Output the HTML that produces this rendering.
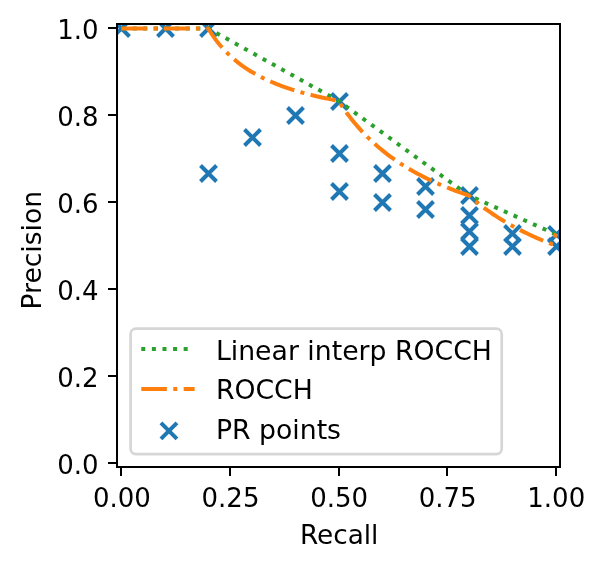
<!DOCTYPE html>
<html lang="en"><head><meta charset="utf-8"><title>PR curve</title>
<style>html,body{margin:0;padding:0;background:#fff}svg{display:block}text{font-family:"DejaVu Sans","Liberation Sans",sans-serif;font-size:26.70px;fill:#000}.t{font-size:26px}.xl{font-size:26.3px}.yl{font-size:26.6px}</style></head><body>
<svg width="604" height="568" viewBox="0 0 604 568">
<rect width="604" height="568" fill="#fff"/>
<clipPath id="ax"><rect x="117.00" y="24.00" width="443.00" height="443.00"/></clipPath>
<g clip-path="url(#ax)">
<path d="M113.50 20.50L129.50 36.50M113.50 36.50L129.50 20.50M157.50 20.50L173.50 36.50M157.50 36.50L173.50 20.50M200.50 20.50L216.50 36.50M200.50 36.50L216.50 20.50M200.50 165.50L216.50 181.50M200.50 181.50L216.50 165.50M244.50 129.50L260.50 145.50M244.50 145.50L260.50 129.50M287.50 107.50L303.50 123.50M287.50 123.50L303.50 107.50M331.50 93.50L347.50 109.50M331.50 109.50L347.50 93.50M331.50 145.50L347.50 161.50M331.50 161.50L347.50 145.50M331.50 183.50L347.50 199.50M331.50 199.50L347.50 183.50M374.50 165.50L390.50 181.50M374.50 181.50L390.50 165.50M374.50 194.50L390.50 210.50M374.50 210.50L390.50 194.50M417.50 178.50L433.50 194.50M417.50 194.50L433.50 178.50M417.50 201.50L433.50 217.50M417.50 217.50L433.50 201.50M461.50 187.50L477.50 203.50M461.50 203.50L477.50 187.50M461.50 207.50L477.50 223.50M461.50 223.50L477.50 207.50M461.50 223.50L477.50 239.50M461.50 239.50L477.50 223.50M461.50 238.50L477.50 254.50M461.50 254.50L477.50 238.50M504.50 225.50L520.50 241.50M504.50 241.50L520.50 225.50M504.50 238.50L520.50 254.50M504.50 254.50L520.50 238.50M548.50 226.50L564.50 242.50M548.50 242.50L564.50 226.50M548.50 238.50L564.50 254.50M548.50 254.50L564.50 238.50" stroke="#1f77b4" stroke-width="4.00" fill="none"/>
<path d="M121.34 28.44 L208.21 28.44 L338.50 100.83 L468.79 195.49 L555.66 234.17" stroke="#2ca02c" stroke-width="4.00" fill="none" stroke-linejoin="round" stroke-dasharray="4.00 6.60" stroke-dashoffset="-0.8"/>
<path d="M121.34 28.44 L122.82 28.44 L124.29 28.44 L125.76 28.44 L127.23 28.44 L128.70 28.44 L130.18 28.44 L131.65 28.44 L133.12 28.44 L134.59 28.44 L136.07 28.44 L137.54 28.44 L139.01 28.44 L140.48 28.44 L141.95 28.44 L143.43 28.44 L144.90 28.44 L146.37 28.44 L147.84 28.44 L149.32 28.44 L150.79 28.44 L152.26 28.44 L153.73 28.44 L155.20 28.44 L156.68 28.44 L158.15 28.44 L159.62 28.44 L161.09 28.44 L162.57 28.44 L164.04 28.44 L165.51 28.44 L166.98 28.44 L168.46 28.44 L169.93 28.44 L171.40 28.44 L172.87 28.44 L174.34 28.44 L175.82 28.44 L177.29 28.44 L178.76 28.44 L180.23 28.44 L181.71 28.44 L183.18 28.44 L184.65 28.44 L186.12 28.44 L187.59 28.44 L189.07 28.44 L190.54 28.44 L192.01 28.44 L193.48 28.44 L194.96 28.44 L196.43 28.44 L197.90 28.44 L199.37 28.44 L200.84 28.44 L202.32 28.44 L203.79 28.44 L205.26 28.44 L206.73 28.44 L208.21 28.44 L208.21 28.44 L210.41 32.00 L212.62 35.34 L214.83 38.47 L217.04 41.41 L219.25 44.18 L221.46 46.79 L223.66 49.27 L225.87 51.61 L228.08 53.83 L230.29 55.93 L232.50 57.93 L234.71 59.84 L236.91 61.66 L239.12 63.39 L241.33 65.04 L243.54 66.62 L245.75 68.14 L247.96 69.59 L250.17 70.98 L252.37 72.31 L254.58 73.59 L256.79 74.83 L259.00 76.01 L261.21 77.15 L263.42 78.25 L265.62 79.31 L267.83 80.33 L270.04 81.32 L272.25 82.27 L274.46 83.19 L276.67 84.08 L278.87 84.94 L281.08 85.77 L283.29 86.58 L285.50 87.36 L287.71 88.12 L289.92 88.86 L292.12 89.57 L294.33 90.26 L296.54 90.93 L298.75 91.59 L300.96 92.22 L303.17 92.84 L305.37 93.44 L307.58 94.03 L309.79 94.60 L312.00 95.15 L314.21 95.69 L316.42 96.22 L318.62 96.73 L320.83 97.23 L323.04 97.72 L325.25 98.20 L327.46 98.66 L329.67 99.12 L331.87 99.56 L334.08 99.99 L336.29 100.42 L338.50 100.83 L338.50 100.83 L340.71 104.24 L342.92 107.52 L345.13 110.67 L347.33 113.71 L349.54 116.65 L351.75 119.47 L353.96 122.20 L356.17 124.84 L358.38 127.39 L360.58 129.85 L362.79 132.24 L365.00 134.54 L367.21 136.78 L369.42 138.94 L371.63 141.04 L373.83 143.08 L376.04 145.06 L378.25 146.97 L380.46 148.84 L382.67 150.65 L384.88 152.41 L387.08 154.12 L389.29 155.79 L391.50 157.41 L393.71 158.98 L395.92 160.52 L398.13 162.02 L400.33 163.48 L402.54 164.90 L404.75 166.28 L406.96 167.64 L409.17 168.96 L411.38 170.24 L413.58 171.50 L415.79 172.73 L418.00 173.93 L420.21 175.10 L422.42 176.25 L424.63 177.37 L426.83 178.47 L429.04 179.54 L431.25 180.59 L433.46 181.61 L435.67 182.62 L437.88 183.60 L440.09 184.56 L442.29 185.51 L444.50 186.43 L446.71 187.34 L448.92 188.23 L451.13 189.10 L453.34 189.95 L455.54 190.79 L457.75 191.61 L459.96 192.41 L462.17 193.20 L464.38 193.98 L466.59 194.74 L468.79 195.49 L468.79 195.49 L470.27 196.78 L471.74 198.05 L473.21 199.30 L474.68 200.53 L476.16 201.74 L477.63 202.92 L479.10 204.08 L480.57 205.23 L482.04 206.35 L483.52 207.46 L484.99 208.55 L486.46 209.62 L487.93 210.67 L489.41 211.71 L490.88 212.73 L492.35 213.73 L493.82 214.72 L495.29 215.69 L496.77 216.65 L498.24 217.59 L499.71 218.51 L501.18 219.43 L502.66 220.33 L504.13 221.21 L505.60 222.09 L507.07 222.95 L508.54 223.79 L510.02 224.63 L511.49 225.45 L512.96 226.26 L514.43 227.06 L515.91 227.85 L517.38 228.63 L518.85 229.39 L520.32 230.15 L521.80 230.90 L523.27 231.63 L524.74 232.36 L526.21 233.07 L527.68 233.78 L529.16 234.47 L530.63 235.16 L532.10 235.84 L533.57 236.51 L535.05 237.17 L536.52 237.82 L537.99 238.47 L539.46 239.10 L540.93 239.73 L542.41 240.35 L543.88 240.96 L545.35 241.57 L546.82 242.17 L548.30 242.76 L549.77 243.34 L551.24 243.91 L552.71 244.48 L554.18 245.04 L555.66 245.60" stroke="#ff7f0e" stroke-width="4.00" fill="none" stroke-linejoin="round" stroke-dasharray="25.65 6.41 4.01 6.41"/>
<path d="M553.50 234.60L557.30 236.30" stroke="#ff7f0e" stroke-width="4.00"/>
</g>
<path d="M120 468h2v8h-2zM229 468h2v8h-2zM338 468h2v8h-2zM446 468h2v8h-2zM555 468h2v8h-2zM108 462h8v2h-8zM108 375h8v2h-8zM108 288h8v2h-8zM108 201h8v2h-8zM108 114h8v2h-8zM108 27h8v2h-8zM116 23H561V468H116ZM118 25V466H559V25Z" fill="#000" fill-rule="evenodd" shape-rendering="crispEdges"/>
<text x="121.94" y="506.90" text-anchor="middle" class="t">0.00</text>
<text x="230.52" y="506.90" text-anchor="middle" class="t">0.25</text>
<text x="339.10" y="506.90" text-anchor="middle" class="t">0.50</text>
<text x="447.68" y="506.90" text-anchor="middle" class="t">0.75</text>
<text x="556.26" y="506.90" text-anchor="middle" class="t">1.00</text>
<text x="98.60" y="473.66" text-anchor="end" class="t">0.0</text>
<text x="98.60" y="386.79" text-anchor="end" class="t">0.2</text>
<text x="98.60" y="299.93" text-anchor="end" class="t">0.4</text>
<text x="98.60" y="213.07" text-anchor="end" class="t">0.6</text>
<text x="98.60" y="126.21" text-anchor="end" class="t">0.8</text>
<text x="98.60" y="39.34" text-anchor="end" class="t">1.0</text>
<text x="339.20" y="544.00" text-anchor="middle" class="xl">Recall</text>
<text transform="translate(40.50 250.20) rotate(-90)" text-anchor="middle" class="yl">Precision</text>
<rect x="130.60" y="328.70" width="371.10" height="125.50" rx="5.33" fill="#fff" fill-opacity="0.8" stroke="#ccc" stroke-opacity="0.8" stroke-width="2.67"/>
<path d="M141.27 349.00H192.60" stroke="#2ca02c" stroke-width="4.00" stroke-dasharray="4.00 6.60"/>
<path d="M141.27 389.00H194.60" stroke="#ff7f0e" stroke-width="4.00" stroke-dasharray="25.60 6.40 4.00 6.40"/>
<path d="M160.93 422.80L176.93 438.80M160.93 438.80L176.93 422.80" stroke="#1f77b4" stroke-width="4.00"/>
<text x="215.93" y="359.80">Linear interp ROCCH</text>
<text x="215.93" y="399.20">ROCCH</text>
<text x="215.93" y="438.60">PR points</text>
</svg></body></html>
